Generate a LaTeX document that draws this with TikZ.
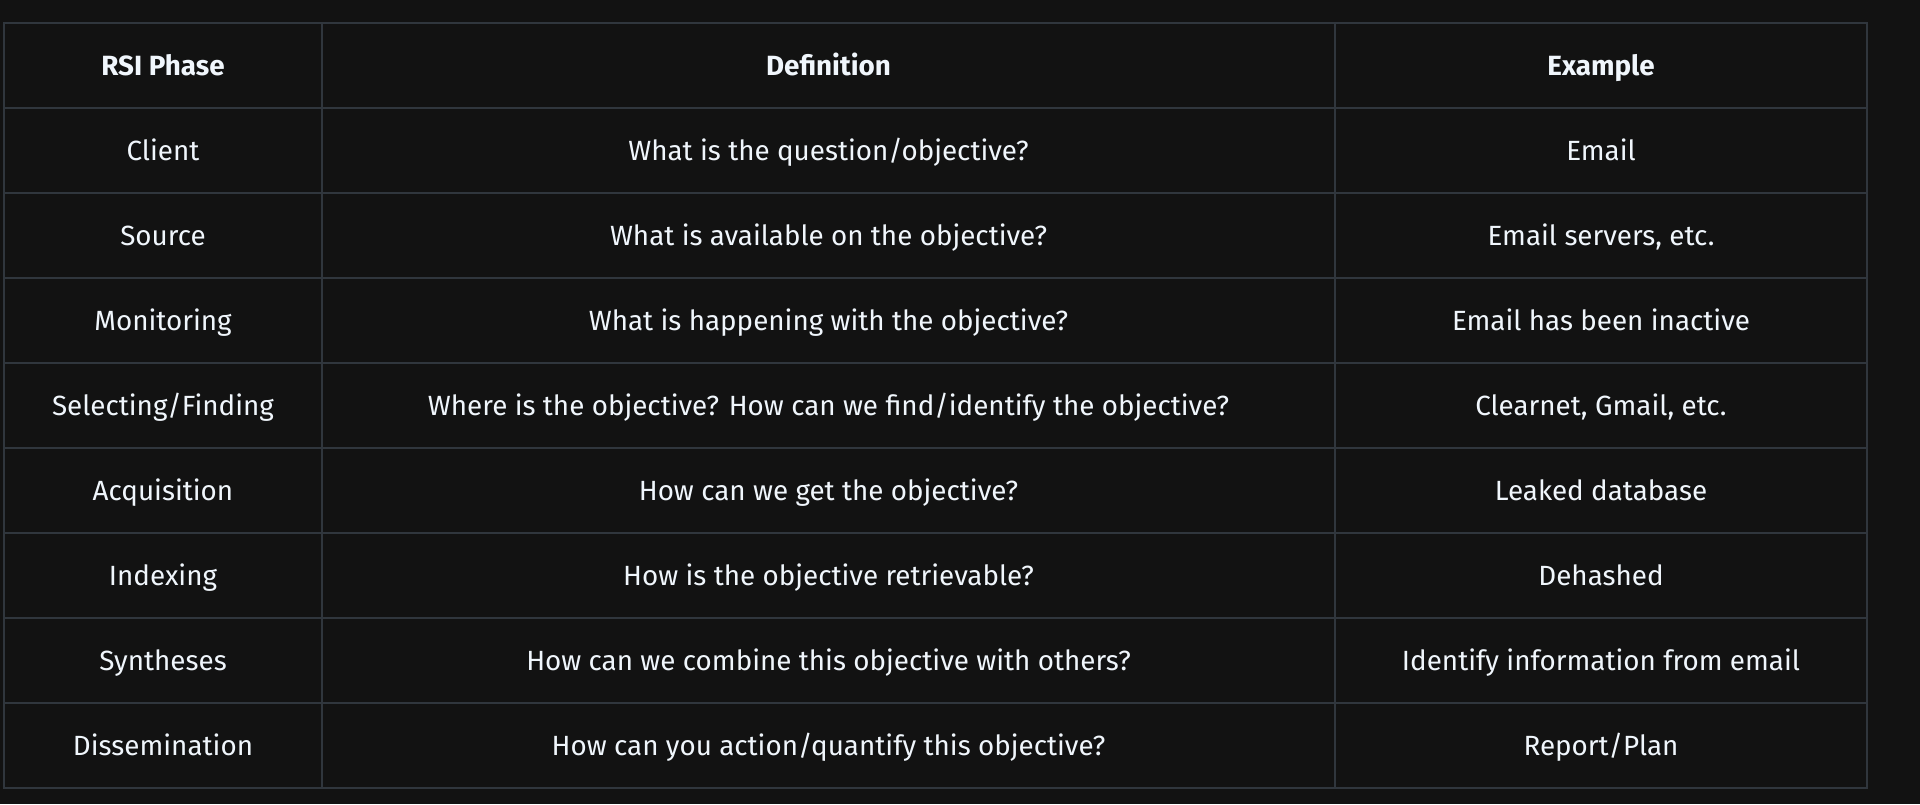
\documentclass[tikz,border=0pt]{standalone}
\usepackage{fontspec}
\setmainfont{Fira Sans}

\definecolor{pagebg}{HTML}{121212}
\definecolor{gridline}{HTML}{30363D}
\definecolor{celltext}{HTML}{F0F6FC}

\tikzset{
  cell/.style={text=celltext, anchor=base, inner sep=0pt,
    font=\fontsize{13.9}{17}\selectfont},
  headcell/.style={cell, font=\fontsize{13.9}{17}\selectfont\bfseries},
  gridrule/.style={draw=gridline, line width=1pt}
}

\begin{document}
\begin{tikzpicture}[x=0.5pt, y=-0.5pt]
% page and table background:
\fill [pagebg] (0,0) rectangle (1920,804);
\useasboundingbox (0,0) rectangle (1920,804);

% grid: rows are 85 high, starting at 23
\foreach \i in {1,...,8}
  \draw [gridrule] (4,23+85*\i) -- (1867,23+85*\i);
\draw [gridrule] (322,23) -- (322,788);
\draw [gridrule] (1335,23) -- (1335,788);
\draw [gridrule] (4,23) rectangle (1867,788);

% header
\node [headcell] (phasehead) at (163,75.5) {RSI Phase};
\node [headcell] (defhead) at (828.5,75.5) {Definition};
\node [headcell] (exhead) at (1601,75.5) {Example};

% body rows
\foreach \phase/\defn/\ex [count=\i] in {
  {Client}/{What is the question/objective?}/{Email},
  {Source}/{What is available on the objective?}/{Email servers, etc.},
  {Monitoring}/{What is happening with the objective?}/{Email has been inactive},
  {Selecting/Finding}/{Where is the objective? How can we find/identify the objective?}/{Clearnet, Gmail, etc.},
  {Acquisition}/{How can we get the objective?}/{Leaked database},
  {Indexing}/{How is the objective retrievable?}/{Dehashed},
  {Syntheses}/{How can we combine this objective with others?}/{Identify information from email},
  {Dissemination}/{How can you action/quantify this objective?}/{Report/Plan}} {
  \node [cell] (phase\i) at (163,75.5+85*\i) {\phase};
  \node [cell] (defn\i) at (828.5,75.5+85*\i) {\defn};
  \node [cell] (ex\i) at (1601,75.5+85*\i) {\ex};
}
\end{tikzpicture}
\end{document}
